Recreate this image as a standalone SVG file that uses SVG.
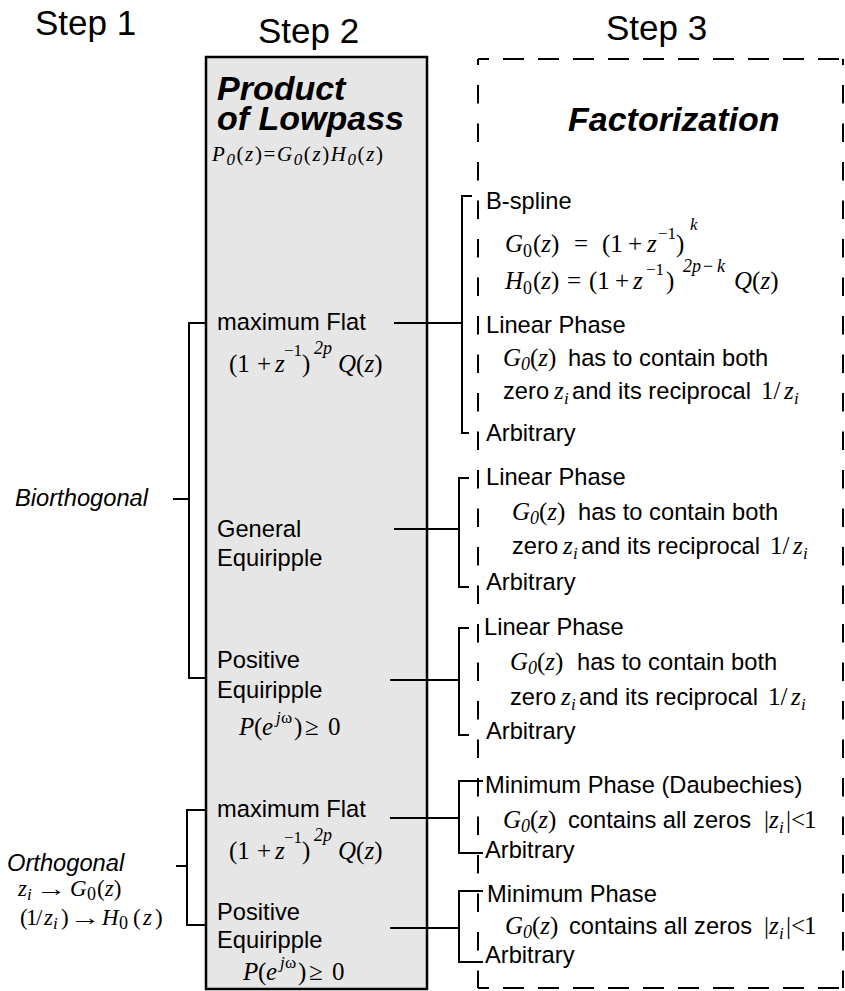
<svg xmlns="http://www.w3.org/2000/svg" width="845" height="991" viewBox="0 0 845 991">
<style>
.t{font-family:"Liberation Sans",Arial,Helvetica,sans-serif;font-size:23.7px;fill:#000}
.st{font-family:"Liberation Sans",Arial,Helvetica,sans-serif;font-size:35px;fill:#000}
.bt{font-family:"Liberation Sans",Arial,Helvetica,sans-serif;font-size:34px;font-weight:bold;font-style:italic;fill:#000}
.it{font-style:italic}
.m{font-family:"Liberation Serif","Times New Roman",serif;font-size:25px;fill:#000;font-style:normal}
.mo{font-family:"Liberation Serif","Times New Roman",serif;font-size:23px;fill:#000;font-style:normal}
.i{font-style:italic}
.sb{font-size:18px}
.sp{font-size:17px}
.ln{stroke:#000;stroke-width:2;fill:none}
.box{fill:#e6e6e6;stroke:#000;stroke-width:2.5}
.dh{stroke:#000;stroke-width:2;stroke-dasharray:21 14;stroke-dashoffset:10}
.dv{stroke:#000;stroke-width:2;stroke-dasharray:18.5 20;stroke-dashoffset:12.5}
</style>

<g id="step-labels">
<text class="st" x="35" y="35">Step 1</text>
<text class="st" x="258" y="43">Step 2</text>
<text class="st" x="606" y="40">Step 3</text>
</g>

<g id="step2-box">
<rect class="box" x="206" y="57" width="221" height="932"/>
<text class="bt"><tspan x="217" y="100">Product</tspan><tspan x="217" y="130">of Lowpass</tspan></text>
<text class="m" x="212" y="161" style="font-size:21px" textLength="171" lengthAdjust="spacing"><tspan class="i">P</tspan><tspan class="i" dy="4" font-size="17">0</tspan><tspan dy="-4">(</tspan><tspan class="i">z</tspan>)=<tspan class="i">G</tspan><tspan class="i" dy="4" font-size="17">0</tspan><tspan dy="-4">(</tspan><tspan class="i">z</tspan>)<tspan class="i">H</tspan><tspan class="i" dy="4" font-size="17">0</tspan><tspan dy="-4">(</tspan><tspan class="i">z</tspan>)</text>
</g>

<g id="biorthogonal">
<text class="t it" x="15" y="506">Biorthogonal</text>
</g>

<g id="orthogonal">
<text class="t it" x="7" y="871">Orthogonal</text>
<text class="mo"><tspan x="18" y="896" class="i">z</tspan><tspan x="27" y="900" class="i sp">i</tspan><tspan x="70" y="896" class="i">G</tspan><tspan x="87" y="900" class="sb">0</tspan><tspan x="97" y="896">(</tspan><tspan class="i">z</tspan><tspan>)</tspan></text>
<text class="mo" transform="translate(36 896) scale(1.35 1)" x="0" y="0">→</text>
<text class="mo"><tspan x="20" y="925">(</tspan><tspan x="26" y="925">1</tspan><tspan x="36" y="925">/</tspan><tspan x="44" y="925" class="i">z</tspan><tspan x="53" y="929" class="i sp">i</tspan><tspan x="61" y="925">)</tspan><tspan x="102" y="925" class="i">H</tspan><tspan x="119" y="929" class="sb">0</tspan><tspan x="133" y="925">(</tspan><tspan x="143" y="925" class="i">z</tspan><tspan x="155" y="925">)</tspan></text>
<text class="mo" transform="translate(70 925) scale(1.35 1)" x="0" y="0">→</text>
</g>

<g id="maxflat-bio">
<text class="t" x="217" y="330">maximum Flat</text>
<text class="m"><tspan x="229" y="372">(1</tspan><tspan x="257" y="372">+</tspan><tspan x="275" y="372" class="i">z</tspan><tspan x="284" y="356" class="sp">−1</tspan><tspan x="302" y="372">)</tspan><tspan x="314" y="354" class="i sb">2p</tspan><tspan x="338" y="372" class="i">Q</tspan><tspan>(</tspan><tspan class="i">z</tspan><tspan>)</tspan></text>
</g>

<g id="general-equiripple">
<text class="t" x="217" y="537">General</text>
<text class="t" x="217" y="566">Equiripple</text>
</g>

<g id="positive-equiripple-bio">
<text class="t" x="217" y="668">Positive</text>
<text class="t" x="217" y="698">Equiripple</text>
<text class="m"><tspan x="239" y="735" class="i">P</tspan><tspan x="254" y="735">(</tspan><tspan x="262" y="735" class="i">e</tspan><tspan x="276" y="723" class="i sp">j</tspan><tspan x="281" y="723" class="sp">ω</tspan><tspan x="294" y="735">)</tspan><tspan x="305" y="735">≥</tspan><tspan x="328" y="735">0</tspan></text>
</g>

<g id="maxflat-orth">
<text class="t" x="217" y="817">maximum Flat</text>
<text class="m"><tspan x="229" y="859">(1</tspan><tspan x="257" y="859">+</tspan><tspan x="275" y="859" class="i">z</tspan><tspan x="284" y="843" class="sp">−1</tspan><tspan x="302" y="859">)</tspan><tspan x="314" y="841" class="i sb">2p</tspan><tspan x="338" y="859" class="i">Q</tspan><tspan>(</tspan><tspan class="i">z</tspan><tspan>)</tspan></text>
</g>

<g id="positive-equiripple-orth">
<text class="t" x="217" y="920">Positive</text>
<text class="t" x="217" y="948">Equiripple</text>
<text class="m"><tspan x="243" y="980" class="i">P</tspan><tspan x="258" y="980">(</tspan><tspan x="266" y="980" class="i">e</tspan><tspan x="280" y="968" class="i sp">j</tspan><tspan x="285" y="968" class="sp">ω</tspan><tspan x="298" y="980">)</tspan><tspan x="309" y="980">≥</tspan><tspan x="332" y="980">0</tspan></text>
</g>

<g id="step3-box">
<line class="dh" x1="478" y1="59" x2="843" y2="59"/>
<line class="dh" x1="478" y1="988" x2="843" y2="988"/>
<line class="dv" x1="478" y1="59" x2="478" y2="988"/>
<line class="dv" x1="843" y1="59" x2="843" y2="988"/>
<text class="bt" x="568" y="131">Factorization</text>
</g>

<g id="factor-maxflat-bio">
<text class="t" x="486" y="209">B-spline</text>
<text class="m"><tspan x="505" y="252" class="i">G</tspan><tspan x="523" y="257" class="sb">0</tspan><tspan x="533" y="252">(</tspan><tspan class="i">z</tspan><tspan>)</tspan><tspan x="574" y="252">=</tspan><tspan x="602" y="252">(1</tspan><tspan x="628" y="252">+</tspan><tspan x="647" y="252" class="i">z</tspan><tspan x="658" y="239" class="sp">−1</tspan><tspan x="676" y="252">)</tspan><tspan x="690" y="230" class="i sp">k</tspan></text>
<text class="m"><tspan x="505" y="289" class="i">H</tspan><tspan x="523" y="294" class="sb">0</tspan><tspan x="533" y="289">(</tspan><tspan class="i">z</tspan><tspan>)</tspan><tspan x="567" y="289">=</tspan><tspan x="589" y="289">(1</tspan><tspan x="615" y="289">+</tspan><tspan x="633" y="289" class="i">z</tspan><tspan x="646" y="275" class="sp">−1</tspan><tspan x="666" y="289">)</tspan><tspan x="683" y="272" class="i sb">2p</tspan><tspan x="703" y="272" class="sb">−</tspan><tspan x="717" y="272" class="i sb">k</tspan><tspan x="734" y="289" class="i">Q</tspan><tspan>(</tspan><tspan class="i">z</tspan><tspan>)</tspan></text>
<text class="t" x="486" y="333">Linear Phase</text>
<text class="t"><tspan x="503" y="366" class="m i">G</tspan><tspan x="521" y="370" class="m i sb">0</tspan><tspan x="530" y="366" class="m">(</tspan><tspan class="m i">z</tspan><tspan class="m">)</tspan><tspan x="568" y="366">has to contain both</tspan></text>
<text class="t"><tspan x="503" y="399">zero</tspan><tspan x="554" y="399" class="m i">z</tspan><tspan x="564" y="404" class="m i sp">i</tspan><tspan x="572" y="399">and its reciprocal</tspan><tspan x="761" y="399" class="m">1/</tspan><tspan x="784" y="399" class="m i">z</tspan><tspan x="794" y="404" class="m i sp">i</tspan></text>
<text class="t" x="486" y="441">Arbitrary</text>
</g>

<g id="factor-general">
<text class="t" x="486" y="485">Linear Phase</text>
<text class="t"><tspan x="512" y="520" class="m i">G</tspan><tspan x="530" y="524" class="m i sb">0</tspan><tspan x="539" y="520" class="m">(</tspan><tspan class="m i">z</tspan><tspan class="m">)</tspan><tspan x="578" y="520">has to contain both</tspan></text>
<text class="t"><tspan x="512" y="554">zero</tspan><tspan x="563" y="554" class="m i">z</tspan><tspan x="573" y="559" class="m i sp">i</tspan><tspan x="581" y="554">and its reciprocal</tspan><tspan x="770" y="554" class="m">1/</tspan><tspan x="793" y="554" class="m i">z</tspan><tspan x="803" y="559" class="m i sp">i</tspan></text>
<text class="t" x="486" y="590">Arbitrary</text>
</g>

<g id="factor-positive-bio">
<text class="t" x="484" y="635">Linear Phase</text>
<text class="t"><tspan x="510" y="670" class="m i">G</tspan><tspan x="528" y="674" class="m i sb">0</tspan><tspan x="537" y="670" class="m">(</tspan><tspan class="m i">z</tspan><tspan class="m">)</tspan><tspan x="577" y="670">has to contain both</tspan></text>
<text class="t"><tspan x="510" y="705">zero</tspan><tspan x="561" y="705" class="m i">z</tspan><tspan x="571" y="710" class="m i sp">i</tspan><tspan x="579" y="705">and its reciprocal</tspan><tspan x="768" y="705" class="m">1/</tspan><tspan x="791" y="705" class="m i">z</tspan><tspan x="801" y="710" class="m i sp">i</tspan></text>
<text class="t" x="486" y="739">Arbitrary</text>
</g>

<g id="factor-maxflat-orth">
<text class="t" x="485" y="793">Minimum Phase (Daubechies)</text>
<text class="t"><tspan x="503" y="828" class="m i">G</tspan><tspan x="521" y="832" class="m i sb">0</tspan><tspan x="530" y="828" class="m">(</tspan><tspan class="m i">z</tspan><tspan class="m">)</tspan><tspan x="568" y="828">contains all zeros</tspan><tspan x="764" y="828" class="m">|</tspan><tspan x="769" y="828" class="m i">z</tspan><tspan x="779" y="833" class="m i sp">i</tspan><tspan x="786" y="828" class="m">|&lt;</tspan><tspan x="804" y="828" class="m">1</tspan></text>
<text class="t" x="485" y="858">Arbitrary</text>
</g>

<g id="factor-positive-orth">
<text class="t" x="487" y="902">Minimum Phase</text>
<text class="t"><tspan x="505" y="934" class="m i">G</tspan><tspan x="523" y="938" class="m i sb">0</tspan><tspan x="532" y="934" class="m">(</tspan><tspan class="m i">z</tspan><tspan class="m">)</tspan><tspan x="569" y="934">contains all zeros</tspan><tspan x="764" y="934" class="m">|</tspan><tspan x="769" y="934" class="m i">z</tspan><tspan x="779" y="939" class="m i sp">i</tspan><tspan x="786" y="934" class="m">|&lt;</tspan><tspan x="804" y="934" class="m">1</tspan></text>
<text class="t" x="485" y="963">Arbitrary</text>
</g>

<g id="connectors">
<path class="ln" d="M207 323 H189 V678 H207 M173 499 H189"/>
<path class="ln" d="M207 810 H187 V925 H207 M176 866 H187"/>
<path class="ln" d="M394 323 H462 M472 196 H462 V433 H469"/>
<path class="ln" d="M394 529 H459 M469 478 H459 V587 H469"/>
<path class="ln" d="M390 680 H459 M469 628 H459 V735 H469"/>
<path class="ln" d="M390 818 H459 M483 781 H459 V853 H483"/>
<path class="ln" d="M390 928 H459 M483 891 H459 V962 H483"/>
</g>
</svg>
